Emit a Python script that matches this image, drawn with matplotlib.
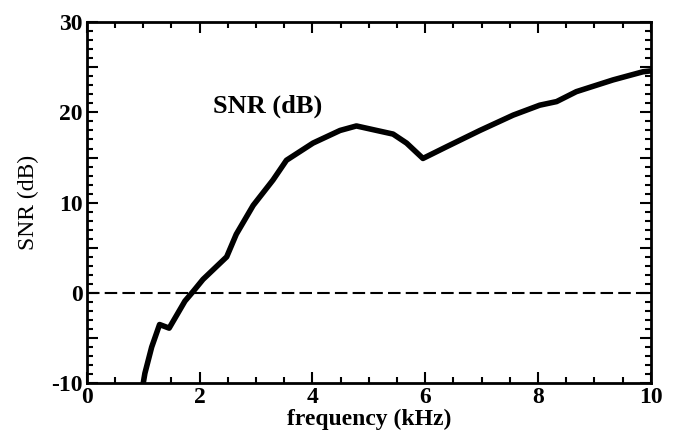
import numpy as np
import matplotlib.pyplot as plt
from matplotlib.ticker import MultipleLocator

# curve (kHz, dB)
freq = [1.0, 1.03, 1.15, 1.29, 1.46, 1.74, 1.89, 2.06, 2.48, 2.65, 2.95, 3.3,
        3.54, 4.01, 4.49, 4.78, 5.14, 5.43, 5.67, 5.96, 6.38, 6.97, 7.56,
        8.03, 8.33, 8.68, 9.33, 9.86, 10.0]
snr = [-10.0, -8.9, -6.0, -3.5, -3.9, -0.9, 0.2, 1.5, 4.0, 6.5, 9.7, 12.5,
       14.7, 16.6, 18.0, 18.5, 18.0, 17.6, 16.6, 14.9, 16.2, 18.0, 19.7,
       20.8, 21.2, 22.3, 23.6, 24.5, 24.6]
ytick_labels = ['-10', '', '0', '', '10', '', '20', '', '30']


def plot_data():
    plt.rcParams['font.family'] = 'Liberation Serif'
    plt.rcParams['font.weight'] = 'bold'
    fig = plt.figure(figsize=(6.73, 4.43), dpi=100)
    ax = fig.add_axes([0.129, 0.135, 0.838, 0.815])

    ax.plot(freq, snr, color='black', lw=4, solid_joinstyle='round')
    ax.axhline(0, color='black', lw=1.5, ls=(0, (6, 2.5)))
    ax.text(3.2, 20.7, 'SNR (dB)', fontsize=19, fontweight='bold',
            ha='center', va='center')

    ax.set_xlim(0, 10)
    ax.set_ylim(-10, 30)
    ax.xaxis.set_major_locator(MultipleLocator(2))
    ax.xaxis.set_minor_locator(MultipleLocator(0.5))
    ax.yaxis.set_minor_locator(MultipleLocator(1))
    ax.set_yticks(np.arange(-10, 31, 5))
    ax.set_yticklabels(ytick_labels)

    ax.tick_params(which='both', direction='in', top=True, right=True,
                   labelsize=17, width=1.5)
    ax.tick_params(which='major', length=8, pad=3)
    ax.tick_params(which='minor', length=4)
    for s in ax.spines.values():
        s.set_linewidth(2)

    ax.set_xlabel('frequency (kHz)', fontsize=17, fontweight='bold', labelpad=0)
    ax.set_ylabel('SNR (dB)', fontsize=17, fontweight='normal', labelpad=9)

    plt.savefig('out.png', dpi=100)


def main():
    plot_data()


if __name__ == '__main__':
    main()
